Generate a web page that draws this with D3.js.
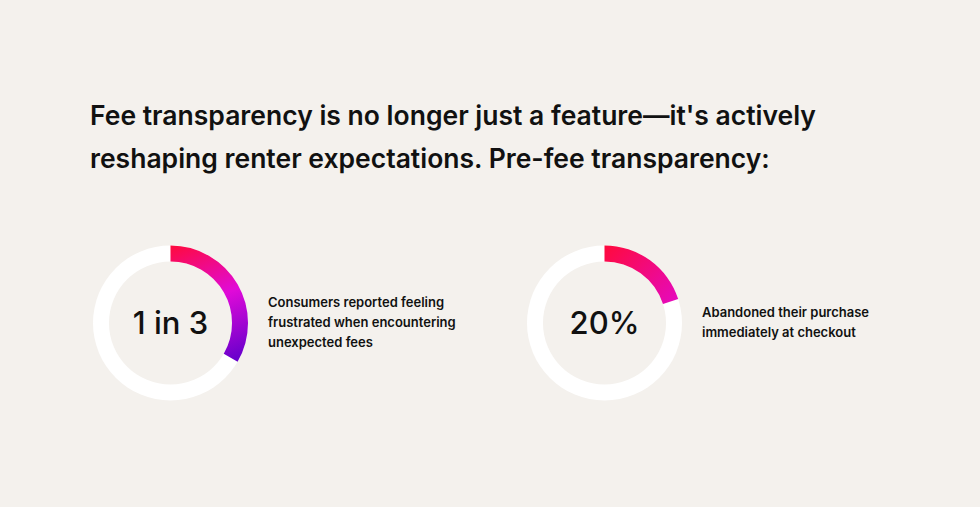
<!DOCTYPE html>
<html><head><meta charset="utf-8">
<script src="https://cdn.jsdelivr.net/npm/d3@7"></script>
<style>body{margin:0;background:#f4f1ed;font-family:Inter,sans-serif}</style>
</head><body><svg id="c" width="980" height="507"></svg>
<script>
const titleLines = ["Fee transparency is no longer just a feature\u2014it's actively", "reshaping renter expectations. Pre-fee transparency:"];
const shares = [1/3, 0.20];
const centerLabels = ["1 in 3", "20%"];
const captions = [["Consumers reported feeling", "frustrated when encountering", "unexpected fees"], ["Abandoned their purchase", "immediately at checkout"]];
const gradStops = [["#ff0a3c", "#e00ad8", "#6a00cc"], ["#ff0a3c", "#e00ad8"]];

const svg = d3.select("#c");
svg.append("rect").attr("width", 980).attr("height", 507).attr("fill", "#f4f1ed");

svg.selectAll("text.title").data(titleLines).join("text")
    .attr("x", 90).attr("y", (d, i) => 125 + i * 43)
    .attr("font-size", 26.5).attr("font-weight", 600).attr("fill", "#111")
    .text(d => d);

const cx = d3.scaleOrdinal().domain([0, 1]).range([170.5, 604.5]);
const cy = 323, rOut = 77.5, rIn = 61.5;
const arc = d3.arc().innerRadius(rIn).outerRadius(rOut);
const defs = svg.append("defs");

shares.forEach((s, i) => {
    const g = svg.append("g").attr("transform", `translate(${cx(i)},${cy})`);
    const grad = defs.append("linearGradient").attr("id", "g" + i)
        .attr("gradientUnits", "userSpaceOnUse")
        .attr("x1", 0).attr("y1", -rOut)
        .attr("x2", i === 0 ? rOut * 0.6 : rOut).attr("y2", i === 0 ? rOut * 0.55 : 0);
    gradStops[i].forEach((c, k, a) => grad.append("stop").attr("offset", k / (a.length - 1)).attr("stop-color", c));
    g.append("path").attr("d", arc({startAngle: 0, endAngle: 2 * Math.PI})).attr("fill", "#fff");
    g.append("path").attr("d", arc({startAngle: 0, endAngle: 2 * Math.PI * s})).attr("fill", `url(#g${i})`);
    g.append("text").attr("text-anchor", "middle").attr("y", 11)
        .attr("font-size", 31).attr("font-weight", 500).attr("fill", "#111").text(centerLabels[i]);
    const lines = captions[i];
    svg.selectAll(null).data(lines).join("text")
        .attr("x", cx(i) + 97.5)
        .attr("y", (d, k) => cy - (lines.length - 1) * 10 + 4 + k * 20)
        .attr("font-size", 13).attr("font-weight", 600).attr("fill", "#111").text(d => d);
});
</script></body></html>
